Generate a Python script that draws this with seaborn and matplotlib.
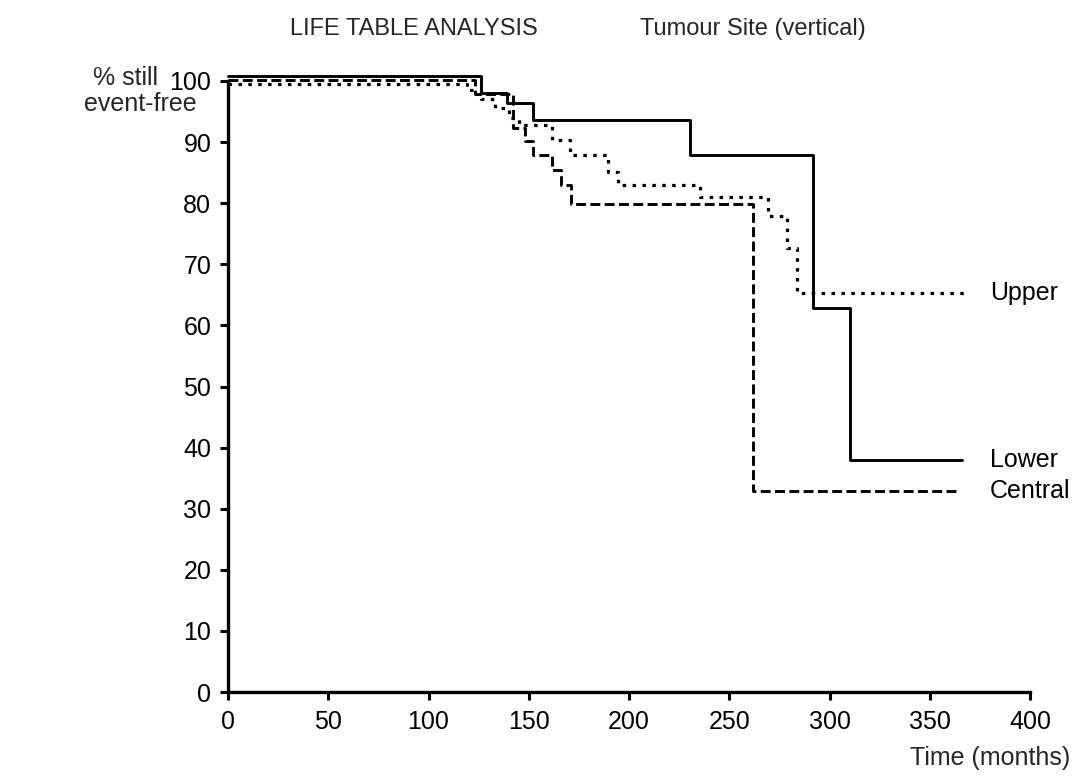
import matplotlib
matplotlib.use("Agg")
import matplotlib.pyplot as plt
import seaborn as sns

# Life-table step curves: event times (months) and % still event-free after each event
lower_t = [0, 126, 139, 152, 230.4, 291.8, 310.2]
lower_v = [100.8, 98.0, 96.4, 93.6, 87.9, 62.8, 38.0]
lower_end = 366

upper_t = [0, 119, 126, 133, 140, 145, 161.6, 170.6, 189.5, 194.5, 235.4, 269.5, 279, 283.7]
upper_v = [99.5, 98.5, 97.0, 95.5, 94.0, 92.8, 90.3, 87.9, 85.1, 83.0, 81.0, 77.9, 72.7, 65.3]
upper_end = 367

central_t = [0, 123, 142, 148, 152, 161.6, 166, 171, 262]
central_v = [100.2, 97.8, 92.3, 90.2, 87.9, 85.4, 83.0, 79.9, 32.9]
central_end = 364

series_names = ["Upper", "Lower", "Central"]
x_ticks = list(range(0, 401, 50))
y_ticks = list(range(0, 101, 10))

sns.set_style("white")
plt.rcParams["font.family"] = ["Liberation Sans", "DejaVu Sans"]
FS = 18

fig = plt.figure(figsize=(10.81, 7.81), dpi=100)
ax = fig.add_axes([228 / 1081, 1 - 692 / 781, (1030 - 228) / 1081, (692 - 81) / 781])

styles = {
    "Lower": dict(linestyle="-", linewidth=2.1),
    "Upper": dict(linestyle=(0, (1.1, 2.0)), linewidth=2.3),
    "Central": dict(linestyle=(0, (3.4, 1.5)), linewidth=2.1),
}
data = {
    "Lower": (lower_t, lower_v, lower_end),
    "Upper": (upper_t, upper_v, upper_end),
    "Central": (central_t, central_v, central_end),
}

for name in series_names:
    t, v, end = data[name]
    xs = list(t) + [end]
    ys = list(v) + [v[-1]]
    sns.lineplot(x=xs, y=ys, ax=ax, color="black", drawstyle="steps-post",
                 estimator=None, sort=False, clip_on=False, **styles[name])
    ax.text(380, v[-1], name, fontsize=FS, va="center", ha="left", color="black")

ax.set_xlim(0, 400)
ax.set_ylim(0, 100)
ax.set_xticks(x_ticks)
ax.set_yticks(y_ticks)
ax.tick_params(axis="both", labelsize=FS, length=6, width=2.2, direction="out",
               colors="black", left=True, bottom=True)
ax.tick_params(axis="y", pad=6)
ax.tick_params(axis="x", pad=7)
for side in ["top", "right"]:
    ax.spines[side].set_visible(False)
for side in ["left", "bottom"]:
    ax.spines[side].set_linewidth(2.4)
    ax.spines[side].set_color("black")
ax.grid(False)

fig.text(290 / 1081, 1 - 35 / 781, "LIFE TABLE ANALYSIS", fontsize=FS - 1,
         ha="left", va="baseline")
fig.text(640 / 1081, 1 - 35 / 781, "Tumour Site (vertical)", fontsize=FS - 1,
         ha="left", va="baseline")
fig.text(158 / 1081, 1 - 78 / 781, "% still", fontsize=FS, ha="right", va="center")
fig.text(197 / 1081, 1 - 104 / 781, "event-free", fontsize=FS, ha="right", va="center")
fig.text(1070 / 1081, 1 - 758 / 781, "Time (months)", fontsize=FS, ha="right", va="center")

fig.savefig("out.png", dpi=100, facecolor="white")
